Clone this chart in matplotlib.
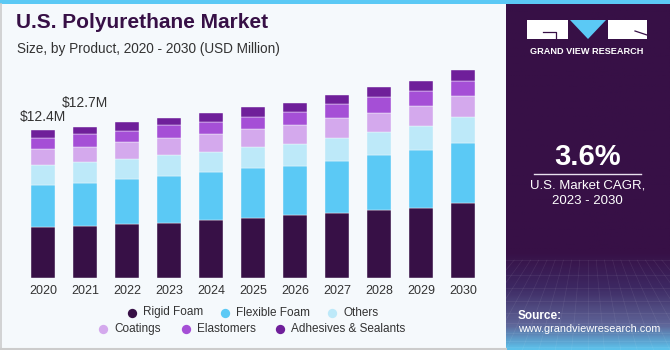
import matplotlib
matplotlib.use("Agg")
import matplotlib.pyplot as plt
import numpy as np
from matplotlib.patches import Rectangle, Polygon
from matplotlib.colors import LinearSegmentedColormap

plt.rcParams['font.family'] = ['Liberation Sans', 'DejaVu Sans']

# data (USD)
years = ['2020', '2021', '2022', '2023', '2024', '2025', '2026', '2027', '2028', '2029', '2030']
rigid_foam = [4.25, 4.37, 4.54, 4.65, 4.87, 5.07, 5.29, 5.46, 5.69, 5.86, 6.28]
flexible_foam = [3.56, 3.64, 3.81, 3.89, 4.00, 4.14, 4.15, 4.40, 4.68, 4.93, 5.04]
others = [1.65, 1.74, 1.68, 1.76, 1.76, 1.76, 1.85, 1.93, 1.87, 1.98, 2.21]
coatings = [1.34, 1.26, 1.43, 1.43, 1.46, 1.51, 1.57, 1.62, 1.66, 1.71, 1.76]
elastomers = [0.96, 1.09, 0.92, 1.09, 1.03, 1.09, 1.12, 1.18, 1.29, 1.23, 1.26]
adhesives = [0.64, 0.61, 0.76, 0.62, 0.73, 0.82, 0.73, 0.82, 0.84, 0.87, 0.96]
value_labels = {0: '$12.4M', 1: '$12.7M'}

series = [
    ('Rigid Foam', rigid_foam, '#371046'),
    ('Flexible Foam', flexible_foam, '#5bc9f5'),
    ('Others', others, '#bde9f9'),
    ('Coatings', coatings, '#d4a9ed'),
    ('Elastomers', elastomers, '#a54fd6'),
    ('Adhesives & Sealants', adhesives, '#6f1f9a'),
]

W, H = 670, 350
bg = '#f5f9fc'
fig = plt.figure(figsize=(W / 100, H / 100), dpi=100)
fig.patch.set_facecolor(bg)

# main chart
ax = fig.add_axes([20 / W, 72 / H, 466 / W, 218 / H])
ax.set_facecolor('none')
x = np.arange(len(years))
bottom = np.zeros(len(years))
for name, vals, col in series:
    ax.bar(x, vals, width=0.57, bottom=bottom, color=col, edgecolor=bg, linewidth=0.3)
    bottom += np.array(vals)

for i, lab in value_labels.items():
    off = 1.1 if i == 0 else 2.0
    ax.text(x[i], bottom[i] + off, lab, ha='center', va='center', fontsize=10, color='#333333')

ax.set_xlim(-0.548, 10.548)
ax.set_ylim(0, 218 / 11.9)
ax.set_xticks(x)
ax.set_xticklabels(years, fontsize=9, color='#333333')
ax.tick_params(axis='x', length=0, pad=5)
ax.set_yticks([])
for s in ax.spines.values():
    s.set_visible(False)

# overlay in pixel coords for decorations
ov = fig.add_axes([0, 0, 1, 1], zorder=5)
ov.set_xlim(0, W)
ov.set_ylim(H, 0)
ov.axis('off')
ov.patch.set_alpha(0)

# borders
ov.add_patch(Rectangle((0, 0), W, 4, color='#5bc9f5', lw=0))
ov.plot([0.5, 0.5], [4, H], color='#cccccc', lw=1.2)
ov.plot([0, 506], [348.5, 348.5], color='#cccccc', lw=1.5)

# title
ov.text(16, 23, 'U.S. Polyurethane Market', fontsize=15, fontweight='heavy', color='#371046',
        va='center', ha='left')
ov.text(17, 49, 'Size, by Product, 2020 - 2030 (USD Million)', fontsize=9.8, color='#333333',
        va='center', ha='left')

# legend
legend_pos = [(132, 312.5, 'Rigid Foam'), (225, 312.5, 'Flexible Foam'), (332, 312.5, 'Others'),
              (103, 329, 'Coatings'), (186, 329, 'Elastomers'), (280, 329, 'Adhesives & Sealants')]
for (px, py, lab), (name, vals, col) in zip(legend_pos, series):
    ov.scatter([px], [py], s=45, color=col, lw=0)
    ov.text(px + 11, py, lab, fontsize=8.5, color='#333333', va='center', ha='left')

# right panel
pan = fig.add_axes([506 / W, 0, 164 / W, 346 / H], zorder=3)
pan.axis('off')
cmap = LinearSegmentedColormap.from_list('p', [(0, '#371046'), (0.72, '#371046'), (0.82, '#3d2862'),
                                               (0.93, '#5f6598'), (1.0, '#5cc0ea')])
grad = np.linspace(0, 1, 300).reshape(-1, 1)
pan.imshow(grad, aspect='auto', cmap=cmap, extent=[0, 1, 0, 1], origin='upper')
pan.set_xlim(0, 1)
pan.set_ylim(0, 1)
# faint mesh at the bottom
for k in range(10):
    yy = 0.26 * (k / 9) ** 1.5
    pan.plot([0, 1], [yy, yy], color='white', alpha=0.08, lw=0.5)
for k in range(-6, 18):
    pan.plot([k / 10, 0.5 + (k / 10 - 0.5) * 0.5], [0, 0.26], color='white', alpha=0.08, lw=0.5)

# logo
ov.add_patch(Rectangle((527, 20), 41, 19, color='white', lw=0))
ov.plot([543, 556, 556], [32, 32, 39], color='#371046', lw=0.9)
ov.add_patch(Polygon([(570, 20), (606, 20), (588, 39)], color='#5bc9f5', lw=0))
ov.add_patch(Rectangle((608, 20), 39, 19, color='white', lw=0))
ov.plot([635, 647], [31, 35], color='#371046', lw=0.9)
ov.text(587, 51, 'GRAND VIEW RESEARCH', fontsize=6.6, fontweight='bold', color='white',
        ha='center', va='center')

ov.text(587.5, 157, '3.6%', fontsize=21, fontweight='bold', color='white', ha='center', va='center')
ov.plot([534, 641], [173.5, 173.5], color='#e8e0ee', lw=1)
ov.text(587.5, 185, 'U.S. Market CAGR,', fontsize=9.5, color='white', ha='center', va='center')
ov.text(587.5, 201, '2023 - 2030', fontsize=9.5, color='white', ha='center', va='center')
ov.text(518, 316, 'Source:', fontsize=8.5, fontweight='bold', color='white', ha='left', va='center')
ov.text(518, 329.5, 'www.grandviewresearch.com', fontsize=7.8, color='white', ha='left', va='center')

fig.savefig('out.png', dpi=100, facecolor=fig.get_facecolor())
